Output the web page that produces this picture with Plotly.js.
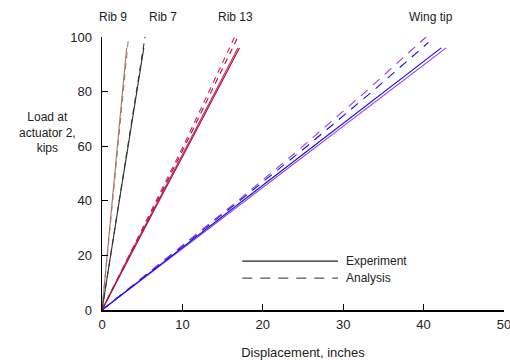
<!DOCTYPE html>
<html><head><meta charset="utf-8">
<script src="https://cdn.plot.ly/plotly-3.0.1.min.js"></script>
<style>html,body{margin:0;padding:0;background:#fff;}#c{width:510px;height:360px;}</style>
</head><body><div id="c"></div>
<script>
// Load (kips)
const loadExp = [0, 20, 40, 60, 80, 96];
const loadAna = [0, 20, 40, 60, 80, 100];
// Displacement (inches) - experiment
const rib9Exp   = [0, 0.62, 1.27, 1.9, 2.55, 3.07];
const rib7Exp   = [0, 1.05, 2.15, 3.25, 4.3, 5.2];
const rib13ExpA = [0, 3.5, 7.1, 10.7, 14.3, 17.1];
const rib13ExpB = [0, 3.4, 7.0, 10.6, 14.1, 16.9];
const tipExpA   = [0, 8.7, 17.5, 26.3, 35.1, 42.2];
const tipExpB   = [0, 8.9, 17.8, 26.7, 35.6, 42.8];
// Displacement (inches) - analysis
const rib9Ana   = [0, 0.66, 1.32, 1.98, 2.64, 3.3];
const rib7Ana   = [0, 1.07, 2.14, 3.21, 4.28, 5.35];
const rib13AnaA = [0, 3.4, 6.8, 10.1, 13.3, 16.5];
const rib13AnaB = [0, 3.45, 6.9, 10.3, 13.6, 16.9];
const tipAnaA   = [0, 8.6, 17.1, 25.5, 33.6, 40.6];
const tipAnaALoad = [0, 20, 40, 60, 80, 98];
const tipAnaB   = [0, 8.5, 16.9, 25.0, 32.8, 40.3];

const C = {rib9:'#9a7a72', rib7:'#333333', r13a:'#a0102a', r13b:'#d4206a', tipA:'#1010dd', tipB:'#9933ee'};

function tr(x, y, color, dash){
  return {x:x, y:y, type:'scatter', mode:'lines', showlegend:false, hoverinfo:'skip',
    line:{color:color, width:1.1, dash:dash}};
}
const data = [
  tr(rib9Ana, loadAna, C.rib9, '6px,5px'),
  tr(rib7Ana, loadAna, C.rib7, '6px,5px'),
  tr(rib13AnaA, loadAna, C.r13b, '6px,5px'),
  tr(rib13AnaB, loadAna, C.r13a, '6px,5px'),
  tr(tipAnaA, tipAnaALoad, C.tipA, '9px,7px'),
  tr(tipAnaB, loadAna, C.tipB, '9px,7px'),
  tr(rib9Exp, loadExp, C.rib9, 'solid'),
  tr(rib7Exp, loadExp, C.rib7, 'solid'),
  tr(rib13ExpB, loadExp, C.r13b, 'solid'),
  tr(rib13ExpA, loadExp, C.r13a, 'solid'),
  tr(tipExpB, loadExp, C.tipB, 'solid'),
  tr(tipExpA, loadExp, C.tipA, 'solid')
];

const F = {family:'Liberation Sans, Arial, sans-serif', size:12, color:'#222'};
const F13 = {family:'Liberation Sans, Arial, sans-serif', size:13, color:'#222'};
const layout = {
  width:510, height:360,
  margin:{l:102, r:6, t:37, b:50},
  paper_bgcolor:'#fff', plot_bgcolor:'#fff',
  font:F, showlegend:false,
  xaxis:{range:[0,50], tickvals:[0,10,20,30,40,50], ticks:'inside', ticklen:6, tickwidth:1,
    tickcolor:'#000', showline:true, linecolor:'#000', linewidth:1.5, showgrid:false, zeroline:false,
    ticklabeloverflow:'allow', tickfont:F13, ticklabelstandoff:2,
    title:{text:'Displacement, inches', font:F13, standoff:18}},
  yaxis:{range:[0,100], tickvals:[0,20,40,60,80,100], ticks:'inside', ticklen:6, tickwidth:1,
    tickcolor:'#000', showline:true, linecolor:'#000', linewidth:1.5, showgrid:false, zeroline:false,
    tickfont:F13, ticklabelstandoff:6},
  shapes:[
    {type:'line', xref:'paper', yref:'paper', x0:0.349, x1:0.587, y0:0.179, y1:0.179, line:{color:'#222', width:1.2}},
    {type:'line', xref:'paper', yref:'paper', x0:0.349, x1:0.587, y0:0.117, y1:0.117, line:{color:'#555', width:1.2, dash:'10px,8px'}}
  ],
  annotations:[
    {xref:'paper', yref:'paper', x:0.603, y:0.179, xanchor:'left', yanchor:'middle', text:'Experiment', showarrow:false, font:F},
    {xref:'paper', yref:'paper', x:0.603, y:0.117, xanchor:'left', yanchor:'middle', text:'Analysis', showarrow:false, font:F},
    {xref:'paper', yref:'paper', x:0.027, y:1.074, xanchor:'center', yanchor:'middle', text:'Rib 9', showarrow:false, font:F},
    {xref:'paper', yref:'paper', x:0.152, y:1.074, xanchor:'center', yanchor:'middle', text:'Rib 7', showarrow:false, font:F},
    {xref:'paper', yref:'paper', x:0.333, y:1.074, xanchor:'center', yanchor:'middle', text:'Rib 13', showarrow:false, font:F},
    {xref:'paper', yref:'paper', x:0.818, y:1.074, xanchor:'center', yanchor:'middle', text:'Wing tip', showarrow:false, font:F},
    {xref:'paper', yref:'paper', x:-0.136, y:0.652, xanchor:'center', yanchor:'middle', align:'center',
      text:'Load at<br>actuator 2,<br>kips', showarrow:false, font:F}
  ]
};
Plotly.newPlot('c', data, layout, {displayModeBar:false, staticPlot:true});
</script></body></html>
